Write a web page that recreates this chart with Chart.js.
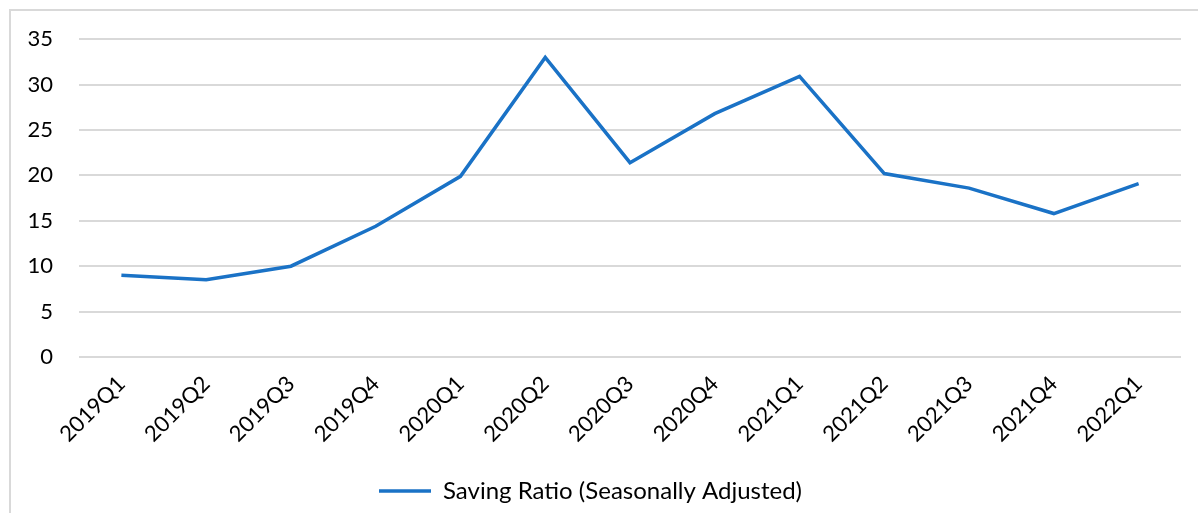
<!DOCTYPE html>
<html>
<head>
<meta charset="utf-8">
<script src="https://cdn.jsdelivr.net/npm/chart.js@4"></script>
<style>
  html, body { margin: 0; padding: 0; background: #fff; }
  #wrap { position: relative; width: 1198px; height: 513px; overflow: hidden; }
  #frame { position: absolute; left: 9px; top: 9px; width: 1300px; height: 600px; border: 2px solid #d9d9d9; }
  #saving { position: absolute; left: 0; top: 0; }
</style>
</head>
<body>
<div id="wrap">
  <div id="frame"></div>
  <canvas id="saving" width="1198" height="513"></canvas>
</div>
<script>
const quarters = ['2019Q1', '2019Q2', '2019Q3', '2019Q4', '2020Q1', '2020Q2', '2020Q3',
                  '2020Q4', '2021Q1', '2021Q2', '2021Q3', '2021Q4', '2022Q1'];
const savingRatio = [9.0, 8.5, 10.0, 14.4, 19.9, 33.0, 21.4, 26.8, 30.9, 20.2, 18.6, 15.8, 19.1];
const yTicks = [0, 5, 10, 15, 20, 25, 30, 35];

const tickFont = { family: 'Lato, "Liberation Sans", sans-serif', size: 22 };
const legendFont = { family: 'Lato, "Liberation Sans", sans-serif', size: 24 };

const ctx = document.getElementById('saving').getContext('2d');

const chart = new Chart(ctx, {
    type: 'line',
    data: {
        labels: quarters,
        datasets: [{
            label: 'Saving Ratio (Seasonally Adjusted)',
            data: savingRatio,
            borderColor: '#1a72c6',
            backgroundColor: '#1a72c6',
            borderWidth: 3.5,
            pointRadius: 0,
            tension: 0
        }]
    },
    options: {
        responsive: false,
        animation: false,
        layout: { padding: { top: 30, right: 17, left: 0, bottom: 0 } },
        scales: {
            x: {
                offset: true,
                grid: { display: false },
                border: { display: false },
                ticks: {
                    color: '#000',
                    font: tickFont,
                    minRotation: 45,
                    maxRotation: 45,
                    padding: 6
                },
                afterFit: (scale) => { scale.height = 114; }
            },
            y: {
                min: 0,
                max: 35,
                afterBuildTicks: (scale) => { scale.ticks = yTicks.map(v => ({ value: v })); },
                grid: { color: '#d9d9d9', lineWidth: 2, drawTicks: false },
                border: { display: false },
                ticks: { color: '#000', font: tickFont, padding: 26 },
                afterFit: (scale) => { scale.width = 79; }
            }
        },
        plugins: {
            tooltip: { enabled: false },
            legend: {
                position: 'bottom',
                labels: {
                    color: '#000',
                    font: legendFont,
                    usePointStyle: true,
                    pointStyle: 'line',
                    pointStyleWidth: 52,
                    padding: 8
                }
            }
        }
    }
});
</script>
</body>
</html>
